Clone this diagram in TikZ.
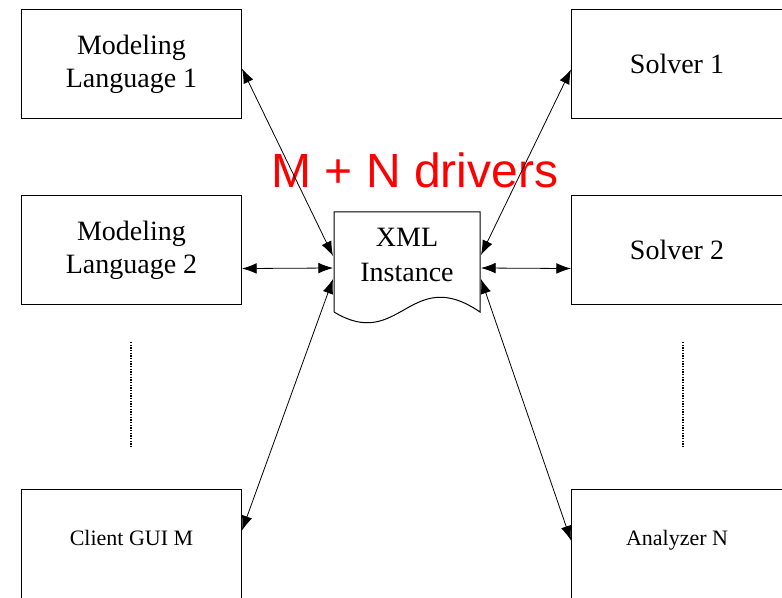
\documentclass[tikz,border=0pt]{standalone}
\usepackage{fontspec}
\setmainfont{Liberation Serif}
\newfontfamily\redfont{Liberation Sans}
\usetikzlibrary{arrows.meta}
\definecolor{drvred}{RGB}{255,0,0}
\begin{document}
\begin{tikzpicture}[x=0.75pt, y=-0.75pt, line width=0.75pt,
    blk/.style={draw, rectangle, inner sep=0pt, align=center, anchor=north west, minimum width=165pt, minimum height=81.75pt, font=\fontsize{21}{24.75}\selectfont},
    rblk/.style={blk, minimum width=158.25pt},
    lowblk/.style={minimum height=84pt, text depth=11pt, font=\fontsize{16.5}{20}\selectfont},
    link/.style={<->, >={Latex[length=11pt, width=8pt]}, line width=0.6pt}]
    \useasboundingbox (0,0) rectangle (782,598);
    \node[blk] (ml1) at (21,9) {Modeling\\Language 1};
    \node[blk] (ml2) at (21,195) {Modeling\\Language 2};
    \node[blk, lowblk] (gui) at (21,489) {Client GUI M};
    \node[rblk] (sol1) at (571,9) {Solver 1};
    \node[rblk] (sol2) at (571,195) {Solver 2};
    \node[rblk, lowblk] (ana) at (571,489) {Analyzer N};
    \draw (334,312) -- (334,212) -- (480,212) -- (480,312) .. controls (410,264) and (400,352) .. (334,312);
    \node[align=center, inner sep=0pt, font=\fontsize{21}{26}\selectfont] (xml) at (407,255) {XML\\Instance};
    \node[font=\redfont\fontsize{36}{40}\selectfont, text=drvred, anchor=base, inner sep=0pt] (drivers) at (415,188) {M + N drivers};
    \coordinate (xl1) at (333,256);
    \coordinate (xl2) at (333,268);
    \coordinate (xl3) at (333,279);
    \coordinate (xr1) at (481,255);
    \coordinate (xr2) at (481,268);
    \coordinate (xr3) at (481,279);
    \draw[link] ([yshift=-3.4pt]ml1.east) -- (xl1);
    \draw[link] ([yshift=-13.9pt]ml2.east) -- (xl2);
    \draw[link] ([yshift=11.25pt]gui.east) -- (xl3);
    \draw[link] ([yshift=-4pt]sol1.west) -- (xr1);
    \draw[link] ([yshift=-13.9pt]sol2.west) -- (xr2);
    \draw[link] ([yshift=3.75pt]ana.west) -- (xr3);
    \draw[densely dotted, line width=1pt] (131,342) -- (131,448);
    \draw[densely dotted, line width=1pt] (683,342) -- (683,448);
\end{tikzpicture}
\end{document}
